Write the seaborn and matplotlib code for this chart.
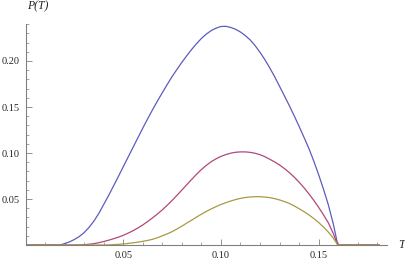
import numpy as np
import pandas as pd
import matplotlib
matplotlib.use("Agg")
import matplotlib.pyplot as plt
from matplotlib.ticker import MultipleLocator
import seaborn as sns

# valores
T = [0.000, 0.015, 0.0175, 0.020, 0.0225, 0.025, 0.0275, 0.030, 0.0325, 0.035,
     0.0375, 0.040, 0.0425, 0.045, 0.0475, 0.050, 0.0525, 0.055, 0.0575, 0.060,
     0.0625, 0.065, 0.0675, 0.070, 0.0725, 0.075, 0.0775, 0.080, 0.0825, 0.085,
     0.0875, 0.090, 0.0925, 0.095, 0.0975, 0.100, 0.1025, 0.105, 0.1075, 0.110,
     0.1125, 0.115, 0.1175, 0.120, 0.1225, 0.125, 0.1275, 0.130, 0.1325, 0.135,
     0.1375, 0.140, 0.1425, 0.145, 0.1475, 0.150, 0.1525, 0.155, 0.1575, 0.1598,
     0.181]

p_azul = [0, 0, 0, 0.0015, 0.0034, 0.006, 0.0092, 0.0135, 0.0191, 0.026,
          0.0343, 0.044, 0.0537, 0.064, 0.0744, 0.085, 0.0955, 0.106, 0.1165, 0.127,
          0.1371, 0.147, 0.1564, 0.1655, 0.1744, 0.183, 0.1909, 0.1985, 0.2057, 0.2125,
          0.2188, 0.2245, 0.2292, 0.2330, 0.2357, 0.2375, 0.2377, 0.2365, 0.2345, 0.2315,
          0.2276, 0.2228, 0.2167, 0.2095, 0.2014, 0.1925, 0.1829, 0.1725, 0.1621, 0.1515,
          0.1404, 0.1290, 0.1171, 0.1050, 0.0913, 0.0765, 0.0606, 0.0435, 0.0230, 0,
          0]

p_magenta = [0, 0, 0, 0, 0, 0, 0.0001, 0.0003, 0.0008, 0.0015,
             0.0025, 0.0038, 0.0052, 0.0068, 0.0085, 0.0105, 0.0129, 0.0155, 0.0185, 0.0218,
             0.0255, 0.0295, 0.0337, 0.0382, 0.0432, 0.0484, 0.0540, 0.0597, 0.0655, 0.0712,
             0.0768, 0.0820, 0.0865, 0.0905, 0.0937, 0.0963, 0.0983, 0.0998, 0.1008, 0.1012,
             0.1012, 0.1007, 0.0997, 0.0982, 0.0960, 0.0932, 0.0903, 0.0870, 0.0831, 0.0787,
             0.0738, 0.0683, 0.0623, 0.0557, 0.0486, 0.0410, 0.0328, 0.0240, 0.0125, 0,
             0]

p_oro = [0, 0, 0, 0, 0, 0, 0, 0, 0, 0,
         0, 0, 0.0001, 0.0004, 0.0007, 0.0012, 0.0017, 0.0024, 0.0031, 0.0040,
         0.0050, 0.0062, 0.0079, 0.0100, 0.0121, 0.0145, 0.0174, 0.0205, 0.0238, 0.0270,
         0.0303, 0.0335, 0.0365, 0.0392, 0.0417, 0.0440, 0.0460, 0.0478, 0.0494, 0.0507,
         0.0516, 0.0522, 0.0525, 0.0525, 0.0521, 0.0515, 0.0504, 0.0490, 0.0472, 0.0452,
         0.0425, 0.0395, 0.0363, 0.0328, 0.0288, 0.0245, 0.0195, 0.0140, 0.0075, 0,
         0]

series = ["a", "b", "c"]
colores = ["#5c5cc0", "#b0487a", "#a89a42"]

df = pd.concat([
    pd.DataFrame({"T": T, "P": p_azul, "serie": "a"}),
    pd.DataFrame({"T": T, "P": p_magenta, "serie": "b"}),
    pd.DataFrame({"T": T, "P": p_oro, "serie": "c"}),
])

sns.set_style("white")
plt.rcParams["font.family"] = ["Liberation Serif", "DejaVu Serif"]

fig = plt.figure(figsize=(4.05, 2.63), dpi=100)
ax = fig.add_axes([0.063, 0.0684, 0.8926, 0.8403])

sns.lineplot(data=df, x="T", y="P", hue="serie", palette=colores,
             hue_order=series, linewidth=0.9, legend=False, ax=ax)

ax.set_xlim(0, 0.185)
ax.set_ylim(0, 0.2402)

gris = "#808080"
for lado in ["top", "right"]:
    ax.spines[lado].set_visible(False)
for lado in ["left", "bottom"]:
    ax.spines[lado].set_color(gris)
    ax.spines[lado].set_linewidth(0.8)

ax.xaxis.set_minor_locator(MultipleLocator(0.01))
ax.yaxis.set_minor_locator(MultipleLocator(0.01))
ax.set_xticks([0.05, 0.10, 0.15])
ax.set_xticklabels(["0.05", "0.10", "0.15"])
ax.set_yticks([0.05, 0.10, 0.15, 0.20])
ax.set_yticklabels(["0.05", "0.10", "0.15", "0.20"])

ax.tick_params(which="major", direction="in", length=4, width=0.6, color=gris,
               labelsize=7.5, pad=4)
ax.tick_params(which="minor", direction="in", length=2, width=0.5, color=gris)
ax.tick_params(axis="x", which="both", bottom=True)
ax.tick_params(axis="y", which="both", left=True)

ax.set_xlabel("")
ax.set_ylabel("")
ax.text(0.003, 1.055, "P(T)", transform=ax.transAxes, fontsize=8.5, style="italic",
        ha="left", va="bottom")
ax.text(1.03, 0.0, "T", transform=ax.transAxes, fontsize=8.5, style="italic",
        ha="left", va="center")

fig.savefig("out.png", dpi=100)
